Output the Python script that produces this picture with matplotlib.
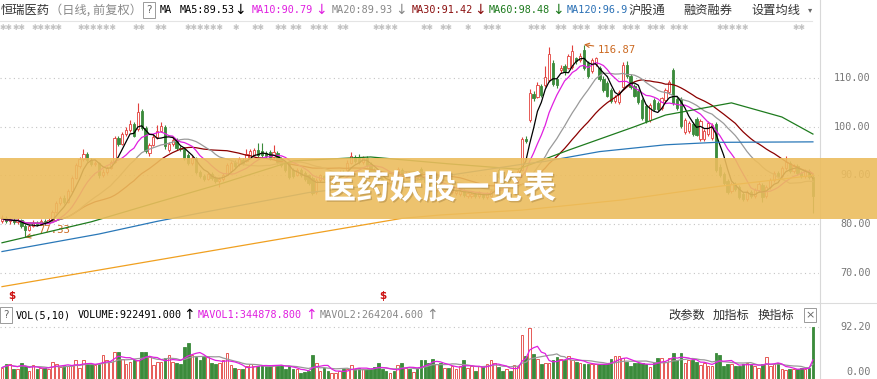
import matplotlib
matplotlib.use("Agg")
import matplotlib.pyplot as plt
from matplotlib import patheffects as pe
from matplotlib.patches import Rectangle
from matplotlib.lines import Line2D
import numpy as np
import pandas as pd

plt.rcParams['font.family'] = ['DejaVu Sans']

# ---- daily candles (price) ----
opens = [80.6, 81.2, 80.6, 80.9, 80.4, 80.8, 79.6, 78.8, 79.6, 80.3,
         80.0, 80.6, 80.2, 80.9, 82.6, 84.4, 85.3, 84.6, 86.8, 89.5,
         92.0, 93.4, 94.4, 93.2, 92.4, 92.6, 90.0, 90.8, 91.6, 92.8,
         97.6, 96.4, 98.6, 99.4, 100.6, 99.6, 103.2, 99.8, 94.6, 96.2,
         97.8, 99.2, 100.0, 95.2, 96.4, 97.2, 95.6, 95.4, 94.2, 92.6,
         93.6, 90.8, 89.8, 89.2, 90.4, 89.4, 88.8, 89.2, 90.2, 91.0,
         92.8, 92.4, 93.2, 93.0, 93.6, 94.2, 95.2, 95.0, 94.6, 94.8,
         93.8, 94.6, 93.4, 92.6, 92.4, 91.2, 90.2, 91.2, 90.6, 90.0,
         89.4, 86.6, 89.0, 89.8, 89.2, 88.8, 89.4, 90.0, 90.8, 91.2,
         92.6, 93.8, 93.6, 92.8, 93.6, 92.4, 91.2, 90.0, 89.2, 88.6,
         88.2, 89.2, 90.0, 91.2, 90.2, 90.4, 89.8, 90.0, 91.4, 89.4,
         88.6, 87.8, 87.0, 87.6, 86.8, 87.2, 86.6, 86.4, 86.2, 86.8,
         85.8, 85.8, 86.2, 85.8, 86.0, 85.6, 85.8, 86.6, 91.2, 89.6,
         89.0, 89.8, 89.2, 90.2, 91.2, 97.4, 101.4, 106.8, 106.0, 108.4,
         108.6, 109.6, 113.0, 109.8, 111.6, 112.4, 112.0, 112.2, 114.0, 113.6,
         115.8, 113.0, 111.4, 112.8, 112.0, 109.8, 109.0, 107.6, 105.2, 105.0,
         108.2, 112.6, 110.4, 108.4, 107.4, 105.4, 104.2, 101.4, 105.4, 104.8,
         103.8, 105.4, 107.2, 111.6, 105.6, 105.6, 99.0, 99.2, 100.6, 101.6,
         97.4, 97.4, 98.6, 97.6, 100.6, 91.8, 90.4, 88.8, 86.8, 88.2,
         87.6, 86.2, 85.2, 86.6, 85.8, 87.0, 88.0, 85.8, 87.6, 89.0,
         90.6, 89.8, 91.6, 92.6, 91.0, 92.0, 90.6, 89.8, 91.0, 89.6]
closes = [81.2, 80.6, 80.9, 80.4, 80.8, 79.6, 78.8, 79.6, 80.3, 80.0,
          80.6, 80.2, 80.9, 82.6, 84.4, 85.3, 84.6, 86.8, 89.4, 92.2,
          93.4, 94.4, 93.2, 92.4, 92.6, 90.0, 90.8, 91.6, 92.8, 97.6,
          96.4, 98.6, 99.4, 100.6, 98.2, 103.0, 99.8, 95.0, 96.2, 97.8,
          99.2, 100.2, 96.0, 96.4, 97.2, 95.6, 95.4, 93.6, 92.6, 93.6,
          90.8, 89.8, 89.2, 90.4, 89.4, 88.8, 89.2, 90.2, 92.2, 92.6,
          92.0, 93.4, 92.6, 94.4, 95.0, 95.2, 94.2, 94.2, 94.0, 93.6,
          94.8, 92.8, 92.2, 91.2, 89.6, 89.8, 91.2, 90.0, 89.2, 88.4,
          86.4, 89.0, 90.0, 89.2, 88.8, 89.4, 90.0, 90.8, 90.4, 92.6,
          94.0, 93.0, 92.8, 93.6, 92.2, 90.8, 90.0, 89.2, 88.6, 88.2,
          89.2, 89.0, 91.4, 90.2, 90.6, 89.8, 90.0, 89.4, 89.4, 88.6,
          87.8, 87.0, 87.6, 86.8, 87.2, 86.6, 87.0, 86.8, 86.8, 86.0,
          86.4, 86.2, 85.8, 86.4, 85.6, 86.2, 86.8, 89.0, 89.6, 89.0,
          89.8, 89.2, 90.2, 91.0, 97.4, 97.0, 107.0, 105.8, 108.6, 106.6,
          110.2, 115.0, 108.8, 108.6, 112.0, 111.4, 114.6, 115.6, 113.4, 114.6,
          112.0, 110.4, 113.6, 114.0, 109.8, 107.6, 106.4, 105.2, 106.2, 107.2,
          112.6, 110.4, 108.2, 106.4, 105.0, 101.8, 101.2, 104.4, 103.6, 103.6,
          105.8, 107.6, 109.2, 104.8, 103.8, 100.2, 101.4, 100.8, 98.6, 98.4,
          101.2, 99.2, 100.8, 100.4, 91.2, 90.0, 88.4, 86.6, 88.2, 87.2,
          85.6, 85.2, 86.6, 85.8, 87.0, 88.2, 85.6, 87.6, 89.0, 90.6,
          89.8, 91.6, 92.8, 91.0, 92.0, 90.6, 89.8, 91.0, 89.6, 85.8]
highs = [81.8, 81.6, 81.3, 81.2, 81.2, 81.0, 80.0, 80.0, 80.8, 80.7,
         81.0, 81.0, 81.2, 83.0, 84.8, 85.8, 85.9, 87.2, 89.8, 92.6,
         93.8, 95.4, 94.8, 93.6, 93.0, 92.8, 91.4, 92.0, 93.2, 98.0,
         98.2, 99.0, 100.0, 101.4, 100.9, 104.9, 103.6, 100.2, 96.6, 98.6,
         100.4, 101.0, 100.4, 96.8, 97.8, 97.6, 96.0, 95.8, 94.6, 94.0,
         93.8, 91.2, 90.4, 90.8, 90.8, 89.8, 89.6, 90.6, 92.6, 93.0,
         93.2, 93.8, 93.6, 95.4, 95.4, 95.6, 96.6, 96.6, 95.0, 95.2,
         96.3, 95.0, 93.8, 93.0, 92.8, 91.6, 91.6, 91.6, 91.0, 90.4,
         89.8, 89.4, 90.4, 90.2, 89.6, 89.8, 90.4, 91.2, 91.2, 93.2,
         94.8, 94.2, 94.4, 94.0, 94.0, 92.8, 91.6, 90.4, 89.6, 89.0,
         89.6, 89.6, 91.8, 91.6, 91.0, 90.8, 90.6, 91.2, 91.8, 89.8,
         89.0, 88.2, 88.0, 88.0, 87.6, 87.6, 87.4, 87.2, 87.2, 87.2,
         86.8, 86.6, 86.6, 86.8, 86.4, 86.6, 87.2, 89.4, 91.6, 90.0,
         90.2, 90.2, 90.6, 91.4, 97.8, 98.2, 107.8, 107.4, 109.2, 108.8,
         112.4, 116.4, 113.6, 110.0, 112.6, 112.8, 115.0, 116.8, 114.4, 115.2,
         116.87, 113.4, 114.2, 114.4, 112.4, 110.4, 109.4, 108.0, 106.6, 107.6,
         113.2, 113.4, 110.8, 108.8, 107.8, 105.8, 104.6, 104.8, 105.8, 105.2,
         106.2, 108.0, 109.6, 112.0, 106.0, 106.0, 101.8, 101.2, 101.0, 102.0,
         101.6, 99.6, 101.2, 100.8, 101.0, 92.4, 90.8, 89.2, 88.6, 88.6,
         88.0, 86.6, 87.0, 87.0, 87.4, 88.6, 88.4, 88.0, 89.4, 91.0,
         91.0, 92.0, 94.0, 93.0, 92.4, 92.4, 91.0, 91.4, 91.4, 90.0]
lows = [80.2, 80.2, 80.0, 80.0, 80.1, 79.2, 77.33, 78.6, 79.4, 79.6,
        79.8, 79.9, 80.0, 80.7, 82.3, 84.0, 84.2, 84.4, 86.5, 89.2,
        91.6, 93.0, 92.8, 92.0, 92.0, 89.4, 89.6, 90.4, 91.4, 92.6,
        96.0, 96.2, 98.2, 99.0, 97.8, 99.2, 99.4, 94.6, 94.0, 96.0,
        97.4, 98.9, 95.4, 94.8, 96.0, 95.2, 95.0, 93.2, 92.2, 92.2,
        90.4, 89.4, 88.8, 89.0, 89.0, 88.4, 87.6, 88.8, 90.0, 90.6,
        91.6, 92.0, 92.2, 92.8, 93.4, 94.0, 93.8, 93.8, 93.6, 93.2,
        93.4, 92.4, 91.8, 90.8, 89.2, 89.4, 89.8, 89.6, 88.8, 88.0,
        86.0, 86.2, 88.6, 88.8, 88.4, 88.4, 89.0, 89.6, 90.0, 91.0,
        92.4, 92.6, 92.4, 92.4, 91.8, 90.4, 89.6, 88.8, 88.2, 87.8,
        87.8, 88.6, 89.8, 89.8, 89.8, 89.4, 89.4, 89.0, 89.0, 88.2,
        87.4, 86.6, 86.6, 86.4, 86.4, 86.2, 86.2, 86.0, 85.8, 85.6,
        85.4, 85.4, 85.4, 85.4, 85.2, 85.2, 85.6, 86.4, 89.2, 88.6,
        88.6, 88.8, 89.0, 89.8, 91.0, 96.6, 101.0, 105.2, 105.8, 106.2,
        108.2, 109.2, 108.4, 108.0, 111.0, 110.6, 111.8, 111.8, 112.8, 113.2,
        111.6, 110.0, 111.0, 112.4, 109.4, 107.2, 106.0, 104.8, 104.8, 104.6,
        108.0, 110.0, 107.8, 106.0, 104.6, 101.4, 100.8, 101.0, 103.2, 103.2,
        103.4, 105.0, 106.8, 104.4, 103.4, 99.8, 98.6, 98.8, 98.2, 98.0,
        97.0, 97.0, 98.2, 97.2, 90.8, 89.6, 88.0, 86.2, 86.4, 86.8,
        85.2, 84.8, 84.8, 85.4, 85.4, 86.6, 84.6, 85.4, 87.2, 88.6,
        89.4, 89.4, 91.2, 90.6, 90.6, 90.2, 89.4, 89.4, 89.2, 82.3]
# volume in 万手
volumes = [22.8, 28.5, 29.6, 21, 21, 31, 25.6, 17, 27, 20,
           22.8, 22.8, 20, 33, 28.5, 24, 27, 25.6, 27, 35,
           22.8, 35, 28.5, 28.5, 27, 28.5, 44, 35, 33, 50,
           49.5, 38, 28.5, 33, 35, 36, 50, 49, 41, 27,
           33, 33, 39, 45, 33, 30, 28.5, 58, 65, 43.8,
           40.9, 35, 40.9, 40.9, 31, 28.5, 31, 35, 47, 27,
           22.8, 20, 20, 25.6, 28.5, 25.6, 25.6, 25.6, 27, 27,
           27, 27, 27, 20, 25.6, 20, 20, 14, 16, 17,
           45, 31, 17, 22.8, 17, 14, 14, 17, 20, 20,
           27, 20, 22.8, 20, 20, 20, 24, 31, 20, 17,
           14, 17, 27, 31, 22.8, 20, 15.6, 22.8, 35, 35,
           31, 38, 28.5, 31, 22.8, 22.8, 25.6, 21, 25.6, 35,
           22.8, 25.6, 17, 25.6, 25.6, 28.5, 35, 31, 24, 17,
           21, 17, 27, 25.6, 78, 43, 90.5, 46.6, 38, 28.5,
           31, 31, 35, 40.9, 38, 35, 43, 35, 33, 31,
           28.5, 28.5, 28.5, 28.5, 28.5, 28.5, 28.5, 38, 43, 43,
           40, 33, 25.6, 30, 30, 30, 28.5, 24, 30, 40,
           40, 33, 40, 47, 35, 48, 31, 35, 35, 33,
           27, 30, 25.6, 25.6, 48, 44, 25.6, 28.5, 29, 26,
           26, 28.5, 30, 28.5, 26, 22.8, 28.5, 41, 25.6, 28.5,
           31, 20, 19, 20, 20, 21, 22.8, 21, 22.8, 92.2]

# long averages (candle index, value)
ma60_idx = [0, 23, 40, 56, 75, 95, 115, 133, 146, 163, 171, 188, 201, 209]
ma60_val = [76.2, 80.5, 84.5, 88.2, 93.0, 93.8, 92.4, 91.3, 95.2, 100.0, 102.4, 104.9, 102.0, 98.5]
ma120_idx = [0, 25, 40, 51, 79, 103, 134, 140, 154, 171, 184, 209]
ma120_val = [74.4, 78.0, 80.6, 82.3, 86.5, 88.6, 92.3, 92.9, 94.9, 96.3, 96.8, 96.9]
ma250_idx = [0, 69, 103, 113, 134, 160, 185, 209]
ma250_val = [67.2, 76.6, 81.2, 81.9, 82.9, 85.0, 87.8, 90.0]

price_ticks = [110, 100, 90, 80, 70]
vol_top = 92.20

RED = '#e2403c'
GREEN = '#3b8b3b'
CJK = ['Noto Sans CJK SC', 'DejaVu Sans']
MONO = ['DejaVu Sans Mono']
W, H = 877, 379


def fx(x):
    return x / W


def fy(y):
    return 1 - y / H


fig = plt.figure(figsize=(W / 100, H / 100), dpi=100)
fig.patch.set_facecolor('white')

x_lo, x_hi = -2 / 3.88, (819 - 2) / 3.88
idx = np.arange(len(closes))
o = np.array(opens)
c = np.array(closes)
up = c >= o
edge = np.where(up, RED, GREEN)
fill = np.where(up, 'white', GREEN)

# ---- price panel ----
ax = fig.add_axes([0, fy(303), 819 / W, (303 - 38) / H])
ax.set_xlim(x_lo, x_hi)
ax.set_ylim(63.846, 118.205)
ax.axis('off')
for p in price_ticks:
    ax.axhline(p, color='#c4c4c4', lw=0.8, ls=(0, (1, 3)), zorder=0)

ax.vlines(idx, lows, highs, colors=edge, lw=0.8, zorder=2)
ax.bar(idx, np.maximum(np.abs(c - o), 0.12), bottom=np.minimum(o, c), width=0.58,
       color=fill, edgecolor=edge, linewidth=0.6, zorder=3)

cs = pd.Series(closes)
for n, col in [(30, '#8b0000'), (20, '#9a9a9a'), (10, '#e020e0'), (5, '#000000')]:
    ax.plot(idx, cs.rolling(n, min_periods=1).mean(), color=col, lw=0.9, zorder=4)
ax.plot(ma60_idx, ma60_val, color='#1e7b1e', lw=0.9, zorder=4)
ax.plot(ma120_idx, ma120_val, color='#2a78b8', lw=0.9, zorder=4)
ax.plot(ma250_idx, ma250_val, color='#f0a020', lw=0.9, zorder=4)

lab_col = '#cc6a22'
imax = int(np.argmax(highs))
ax.annotate(f'{highs[imax]:.2f}', xy=(imax, highs[imax]), xytext=(10, -3.6),
            textcoords='offset points', ha='left', va='center', color=lab_col,
            fontsize=7.6, family=MONO,
            arrowprops=dict(arrowstyle='->', color=lab_col, lw=0.8, shrinkA=1, shrinkB=0))
imin = int(np.argmin(lows))
ax.annotate(f'{lows[imin]:.2f}', xy=(imin, lows[imin]), xytext=(9.4, 5),
            textcoords='offset points', ha='left', va='center', color=lab_col,
            fontsize=7.6, family=MONO,
            arrowprops=dict(arrowstyle='->', color=lab_col, lw=0.8, shrinkA=1, shrinkB=0))

# ---- volume panel ----
axv = fig.add_axes([0, 0, 819 / W, 57 / H])
axv.set_xlim(x_lo, x_hi)
axv.set_ylim(3.41, 100.7)
axv.axis('off')
axv.axhline(vol_top, color='#c4c4c4', lw=0.8, ls=(0, (1, 3)), zorder=0)
axv.bar(idx, volumes, width=0.68, color=fill, edgecolor=edge, linewidth=0.6, zorder=2)
vs = pd.Series(volumes)
axv.plot(idx, vs.rolling(10, min_periods=1).mean(), color='#999999', lw=0.9, zorder=3)
axv.plot(idx, vs.rolling(5, min_periods=1).mean(), color='#e020e0', lw=0.9, zorder=3)

# ---- frame lines ----
fig.add_artist(Line2D([0, fx(812)], [fy(21), fy(21)], color='#e4e4e4', lw=0.8))
fig.add_artist(Line2D([0, 1], [fy(302.5), fy(302.5)], color='#dcdcdc', lw=0.8))
fig.add_artist(Line2D([fx(819.5), fx(819.5)], [0, 1], color='#d8d8d8', lw=0.8))

# ---- header ----
hy = fy(10)
fig.text(fx(1), hy, '恒瑞医药', ha='left', va='center', fontsize=8.8, color='#333333', family=CJK)
fig.text(fx(50), hy, '（日线, 前复权）', ha='left', va='center', fontsize=8.8, color='#8a8a8a', family=CJK)
fig.text(fx(149), hy, '?', ha='center', va='center', fontsize=7.5, color='#666666',
         bbox=dict(boxstyle='square,pad=0.3', fc='white', ec='#9a9a9a', lw=0.7))
ma_items = [(160, 'MA', '#000000'), (180, 'MA5:89.53', '#000000'),
            (252, 'MA10:90.79', '#e020e0'), (332, 'MA20:89.93', '#888888'),
            (412, 'MA30:91.42', '#8b1010'), (489, 'MA60:98.48', '#1e7b1e'),
            (567, 'MA120:96.9', '#2a70b5')]
for x, s, col in ma_items:
    fig.text(fx(x), hy, s, ha='left', va='center', fontsize=7.3, color=col, family=MONO)
for x, col in [(240, '#000000'), (321, '#e020e0'), (401, '#888888'),
               (480, '#8b1010'), (558, '#1e7b1e')]:
    fig.text(fx(x), hy, '↓', ha='center', va='center', fontsize=10, color=col)
for x, s in [(629, '沪股通'), (683, '融资融券'), (751, '设置均线')]:
    fig.text(fx(x), hy, s, ha='left', va='center', fontsize=8.8, color='#333333', family=CJK)
fig.text(fx(808), hy, '▾', ha='left', va='center', fontsize=6, color='#666666')

# greyed-out row under the header
star_groups = [(0, 2), (13, 2), (32, 3), (50, 2), (78, 6), (133, 2), (155, 2), (185, 6),
               (233, 1), (252, 2), (275, 2), (290, 2), (310, 3), (337, 2), (373, 4), (421, 2),
               (440, 2), (465, 1), (483, 3), (528, 3), (555, 2), (572, 3), (597, 3),
               (622, 3), (647, 3), (670, 3), (717, 5), (793, 2)]
for x, n in star_groups:
    fig.text(fx(x), fy(27), '✱' * n, ha='left', va='center', fontsize=5.6, color='#c2c2c2')

# red markers
for x in [12, 383]:
    fig.text(fx(x), fy(296), '$', ha='center', va='center', fontsize=7.5,
             color='#cc1111', fontweight='bold')

# ---- volume header ----
vy = fy(315)
fig.text(fx(6), vy, '?', ha='center', va='center', fontsize=7.5, color='#666666',
         bbox=dict(boxstyle='square,pad=0.3', fc='white', ec='#9a9a9a', lw=0.7))
vol_items = [(16, 'VOL(5,10)', '#000000'), (78, 'VOLUME:922491.000', '#000000'),
             (198, 'MAVOL1:344878.800', '#e020e0'), (320, 'MAVOL2:264204.600', '#888888')]
for x, s, col in vol_items:
    fig.text(fx(x), vy, s, ha='left', va='center', fontsize=7.3, color=col, family=MONO)
for x, col in [(189, '#000000'), (311, '#e020e0'), (432, '#888888')]:
    fig.text(fx(x), vy, '↑', ha='center', va='center', fontsize=10, color=col)
for x, s in [(668, '改参数'), (713, '加指标'), (758, '换指标')]:
    fig.text(fx(x), vy, s, ha='left', va='center', fontsize=8.8, color='#333333', family=CJK)
fig.text(fx(810), vy, '×', ha='center', va='center', fontsize=8, color='#666666',
         bbox=dict(boxstyle='square,pad=0.15', fc='white', ec='#9a9a9a', lw=0.7))

# ---- right axis labels ----
for p in price_ticks:
    py = 78 + (110 - p) * 4.875
    fig.text(fx(871), fy(py), f'{p:.2f}', ha='right', va='center', fontsize=7.3,
             color='#777777', family=MONO)
fig.text(fx(871), fy(327), f'{vol_top:.2f}', ha='right', va='center', fontsize=7.3,
         color='#777777', family=MONO)
fig.text(fx(871), fy(372), '0.00', ha='right', va='center', fontsize=7.3,
         color='#777777', family=MONO)

# ---- title banner ----
fig.patches.append(Rectangle((0, fy(219)), 1, (219 - 158) / H, transform=fig.transFigure,
                             facecolor='#ecbd5e', edgecolor='none', alpha=0.9, zorder=10))
fig.text(fx(439.5), fy(189), '医药妖股一览表', ha='center', va='center', fontsize=24,
         fontweight='bold', color='white', family=CJK, zorder=11,
         path_effects=[pe.withSimplePatchShadow(offset=(1, -1), shadow_rgbFace='#8a6a30', alpha=0.35)])

fig.savefig('out.png', dpi=100, facecolor='white')
